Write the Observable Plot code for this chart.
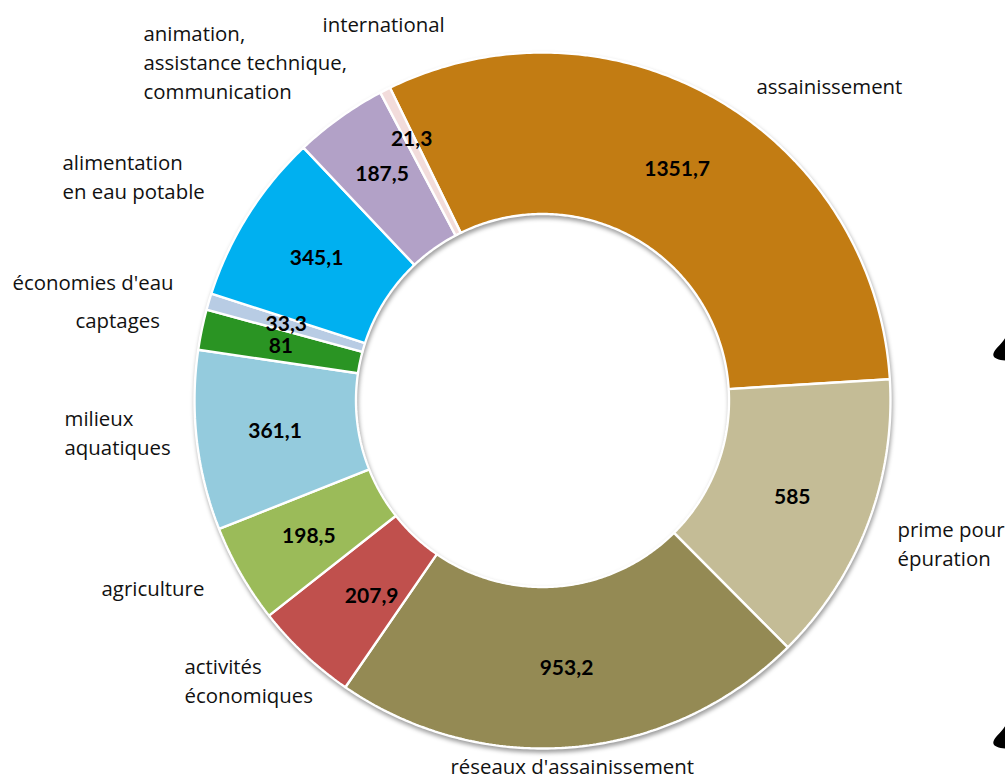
<!DOCTYPE html>
<html lang="fr">
<head>
<meta charset="utf-8">
<title>Anneau</title>
<script src="https://cdn.jsdelivr.net/npm/d3@7"></script>
<script src="https://cdn.jsdelivr.net/npm/@observablehq/plot@0.6"></script>
<style>
html, body { margin: 0; padding: 0; background: #fff; overflow: hidden; }
svg { display: block; }
g[aria-label="line"] { filter: drop-shadow(1px 3px 2px rgba(0,0,0,.38)); }
</style>
</head>
<body>
<div id="chart"></div>
<script>
const categories = ["assainissement", "prime pour\népuration", "réseaux d'assainissement", "activités\néconomiques", "agriculture", "milieux\naquatiques", "captages", "économies d'eau", "alimentation\nen eau potable", "animation,\nassistance technique,\ncommunication", "international"];
const values = [1351.7, 585, 953.2, 207.9, 198.5, 361.1, 81, 33.3, 345.1, 187.5, 21.3];
const colors = ["#C27C13", "#C4BC96", "#948A54", "#C0504D", "#9BBB59", "#94CBDD", "#2A9423", "#B8CCE4", "#00B0F0", "#B2A1C7", "#F2DCDB"];

// layout
const W = 1005, H = 776, CX = 542, CY = 400, R = 348, r0 = 186.5;
const startAngle = -26 * Math.PI / 180;
const labelLeft = [756, 897, 450, 184, 101, 64, 75, 12, 62, 143, 322];
const labelMiddle = [84, 541.5, 764, 678.5, 586, 430.5, 318, 280, 174.5, 60.5, 22];
const valueNudgeX = [0, 0, 0, 12, -2, -2, 0, 0, 0, -5, -10];
const valueNudgeY = [0, 2, 2, 1, 2, 0, 0, 0, 0, -9, -23];
const dropY = [348.5, 736.5];

const FONT = "'Open Sans', sans-serif";
const FONT_BOLD = "Lato, sans-serif";

const arcs = d3.pie().sort(null).startAngle(startAngle).endAngle(startAngle + 2 * Math.PI)(values);
const polar = (rad, a) => [CX + rad * Math.sin(a), CY - rad * Math.cos(a)];

// ring outline for every slice, in the chart's x/y scales
const ringPoints = arcs.flatMap((arc, i) => {
  const n = Math.max(2, Math.ceil((arc.endAngle - arc.startAngle) / 0.01));
  const angles = d3.range(n + 1).map(k => arc.startAngle + (arc.endAngle - arc.startAngle) * k / n);
  const outer = angles.map(a => polar(R, a));
  const inner = angles.slice().reverse().map(a => polar(r0, a));
  return outer.concat(inner).map(([x, y]) => ({x, y, slice: categories[i], color: colors[i]}));
});

const valueRows = arcs.map((arc, i) => {
  const [x, y] = polar((R + r0) / 2, (arc.startAngle + arc.endAngle) / 2);
  return {x: x + valueNudgeX[i], y: y + valueNudgeY[i], text: String(values[i]).replace(".", ",")};
});

const labelRows = categories.map((text, i) => ({x: labelLeft[i], y: labelMiddle[i], text}));

const dropSymbol = {
  draw(ctx, size) {
    const s = Math.sqrt(size) / 2;
    ctx.moveTo(0, -1.1 * s);
    ctx.bezierCurveTo(0.3 * s, -0.45 * s, 1.15 * s, 0.05 * s, 1.15 * s, 0.55 * s);
    ctx.bezierCurveTo(1.15 * s, 1.25 * s, -1.15 * s, 1.25 * s, -1.15 * s, 0.55 * s);
    ctx.bezierCurveTo(-1.15 * s, 0.05 * s, -0.3 * s, -0.45 * s, 0, -1.1 * s);
    ctx.closePath();
  }
};

const chart = Plot.plot({
  width: W, height: H,
  marginTop: 0, marginRight: 0, marginBottom: 0, marginLeft: 0,
  x: {domain: [0, W], range: [0, W], axis: null},
  y: {domain: [0, H], range: [0, H], axis: null},
  style: {background: "#fff"},
  marks: [
    Plot.line(ringPoints, {
      x: "x", y: "y", z: "slice", fill: "color",
      stroke: "#fff", strokeWidth: 2.4, strokeLinejoin: "miter",
      curve: "linear-closed"
    }),
    Plot.text(valueRows, {
      x: "x", y: "y", text: "text", fill: "#000",
      fontFamily: FONT_BOLD, fontWeight: 700, fontSize: 21
    }),
    Plot.text(labelRows, {
      x: "x", y: "y", text: "text", fill: "#111",
      textAnchor: "start", lineAnchor: "middle", lineHeight: 1.41,
      fontFamily: FONT, fontSize: 20.4
    }),
    Plot.dot(dropY, {
      x: () => 1005, y: d => d, symbol: dropSymbol, r: 12, fill: "#000", stroke: "none"
    })
  ]
});
document.getElementById("chart").append(chart);
</script>
</body>
</html>
